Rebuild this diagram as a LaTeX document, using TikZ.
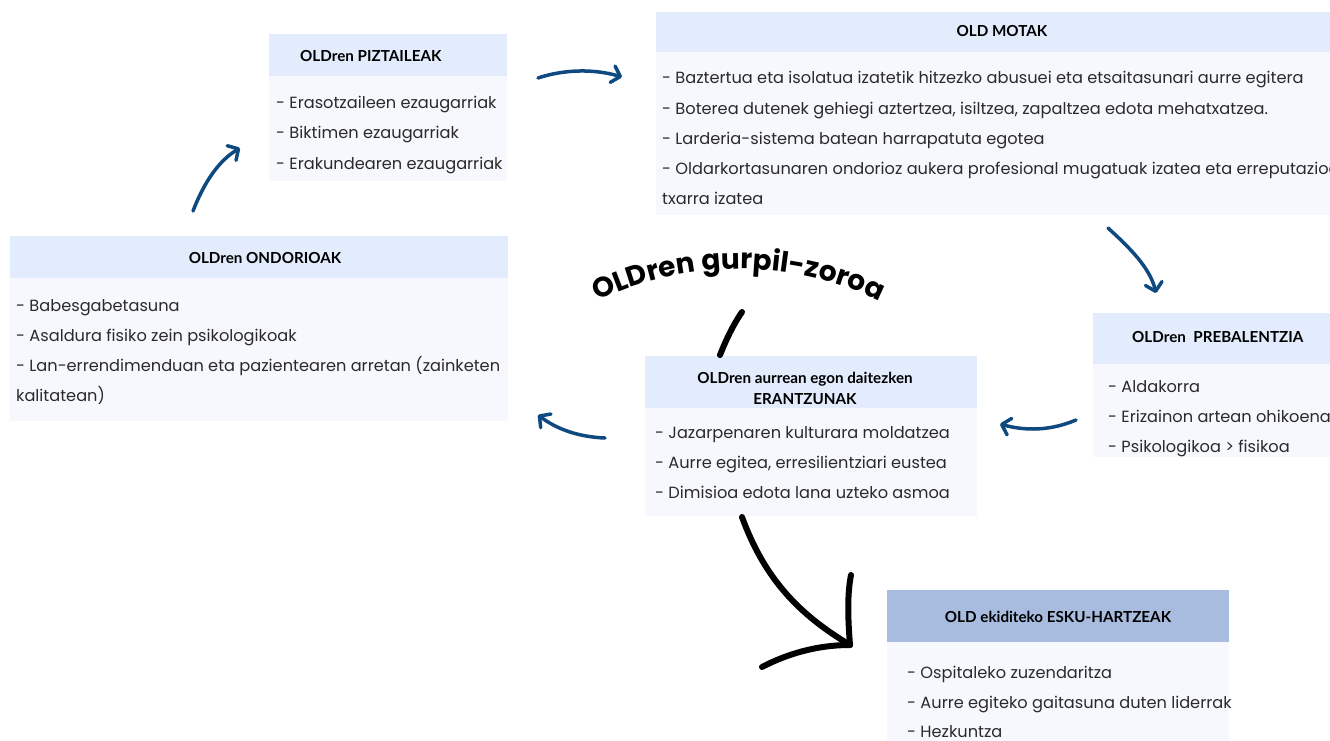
\documentclass[tikz,border=0pt]{standalone}
\usepackage{fontspec}
\setmainfont{Poppins}
\newfontfamily\hdfont{Lato}
\newfontfamily\titlefont{Poppins}
\usetikzlibrary{arrows.meta,decorations.text}
\definecolor{hdr}{HTML}{E2ECFC}
\definecolor{bdy}{HTML}{F6F8FE}
\definecolor{hdrdark}{HTML}{A8BCDF}
\definecolor{arrblue}{HTML}{0E4A80}
\definecolor{txt}{HTML}{2A2A2A}
\begin{document}
\begin{tikzpicture}[x=1pt,y=-1pt,
  box/.style={draw=none,inner sep=0pt,outer sep=0pt,anchor=north west},
  hbox/.style={box,fill=hdr},
  dbox/.style={box,fill=hdrdark},
  bbox/.style={box,fill=bdy},
  htext/.style={inner sep=0pt,font=\hdfont\bfseries\fontsize{15.2}{18}\selectfont,text=black},
  bline/.style={anchor=base west,inner sep=0pt,font=\fontsize{16.2}{19}\selectfont,text=txt},
  blueArrow/.style={draw=arrblue,line width=3.5pt,line cap=round,-{Straight Barb[length=8pt,width=17pt,round]}},
  blackStroke/.style={draw=black,line width=6pt,line cap=round}
]
\useasboundingbox (0,0) rectangle (1330,741);
\clip (0,0) rectangle (1330,741);

% ---- PIZTAILEAK
\node[hbox,minimum width=238,minimum height=42] (pizH) at (269,34) {};
\node[bbox,minimum width=238,minimum height=105] (pizB) at (269,76) {};
\node[htext,anchor=west] (pizT) at (300,56) {OLDren PIZTAILEAK};
\node[bline] (piz1) at (276,109) {- Erasotzaileen ezaugarriak};
\node[bline] (piz2) at (276,139) {- Biktimen ezaugarriak};
\node[bline] (piz3) at (276,169) {- Erakundearen ezaugarriak};

% ---- MOTAK
\node[hbox,minimum width=680,minimum height=40] (motH) at (656,12) {};
\node[bbox,minimum width=680,minimum height=163] (motB) at (656,52) {};
\node[htext] (motT) at (1002,31) {OLD MOTAK};
\node[bline] (mot1) at (662,84) {- Baztertua eta isolatua izatetik hitzezko abusuei eta etsaitasunari aurre egitera};
\node[bline] (mot2) at (662,114) {- Boterea dutenek gehiegi aztertzea, isiltzea, zapaltzea edota mehatxatzea.};
\node[bline] (mot3) at (662,144) {- Larderia-sistema batean harrapatuta egotea};
\node[bline] (mot4) at (662,174) {- Oldarkortasunaren ondorioz aukera profesional mugatuak izatea eta erreputazioa};
\node[bline] (mot5) at (662,204) {txarra izatea};

% ---- ONDORIOAK
\node[hbox,minimum width=498,minimum height=42] (ondH) at (10,236) {};
\node[bbox,minimum width=498,minimum height=143] (ondB) at (10,278) {};
\node[htext] (ondT) at (265,258) {OLDren ONDORIOAK};
\node[bline] (ond1) at (16,311) {- Babesgabetasuna};
\node[bline] (ond2) at (16,341) {- Asaldura fisiko zein psikologikoak};
\node[bline] (ond3) at (16,371) {- Lan-errendimenduan eta pazientearen arretan (zainketen};
\node[bline] (ond4) at (16,401) {kalitatean)};

% ---- PREBALENTZIA
\node[hbox,minimum width=240,minimum height=51] (preH) at (1093,313) {};
\node[bbox,minimum width=240,minimum height=93] (preB) at (1093,364) {};
\node[htext,anchor=west] (preT) at (1132,337) {OLDren\ \ PREBALENTZIA};
\node[bline] (pre1) at (1108,392) {- Aldakorra};
\node[bline] (pre2) at (1108,422) {- Erizainon artean ohikoena};
\node[bline] (pre3) at (1108,452) {- Psikologikoa > fisikoa};

% ---- ERANTZUNAK
\node[hbox,minimum width=332,minimum height=52] (eraH) at (645,356) {};
\node[bbox,minimum width=332,minimum height=108] (eraB) at (645,408) {};
\node[htext,align=center,font=\hdfont\bfseries\fontsize{15.2}{21}\selectfont] (eraT) at (805,388) {OLDren aurrean egon daitezken\\ERANTZUNAK};
\node[bline] (era1) at (655,438) {- Jazarpenaren kulturara moldatzea};
\node[bline] (era2) at (655,468) {- Aurre egitea, erresilientziari eustea};
\node[bline] (era3) at (655,498) {- Dimisioa edota lana uzteko asmoa};

% ---- ESKU-HARTZEAK
\node[dbox,minimum width=342,minimum height=52] (eskH) at (887,590) {};
\node[bbox,minimum width=342,minimum height=110] (eskB) at (887,642) {};
\node[htext] (eskT) at (1058,617) {OLD ekiditeko ESKU-HARTZEAK};
\node[bline] (esk1) at (907,678) {- Ospitaleko zuzendaritza};
\node[bline] (esk2) at (907,708) {- Aurre egiteko gaitasuna duten liderrak};
\node[bline] (esk3) at (907,737) {- Hezkuntza};

% ---- title along arc
\coordinate (tl) at (590,305);
\coordinate (tr) at (887,305);
\path[decorate,decoration={text along path,text align=center,
  text={|\titlefont\bfseries\fontsize{28}{32}\selectfont|OLDren gurpil-zoroa}}]
  (tl) .. controls (680,257) and (797,257) .. (tr);

% ---- blue arrows
\coordinate (a1s) at (193,211); \coordinate (a1e) at (240,148);
\coordinate (a2s) at (538,78);  \coordinate (a2e) at (622,77);
\coordinate (a3s) at (1108,228); \coordinate (a3e) at (1156,293);
\coordinate (a4s) at (1076,420); \coordinate (a4e) at (1000,424);
\coordinate (a5s) at (605,438); \coordinate (a5e) at (538,415);
\draw[blueArrow] (a1s) .. controls (205,180) and (220,160) .. (a1e);
\draw[blueArrow] (a2s) .. controls (565,69) and (595,69) .. (a2e);
\draw[blueArrow] (a3s) .. controls (1130,248) and (1150,268) .. (a3e);
\draw[blueArrow] (a4s) .. controls (1050,431) and (1025,431) .. (a4e);
\draw[blueArrow] (a5s) .. controls (580,437) and (558,430) .. (a5e);

% ---- black strokes
\coordinate (k1s) at (742,312); \coordinate (k1e) at (720,355);
\draw[blackStroke] (k1s) .. controls (733,325) and (726,340) .. (k1e);
\coordinate (k2s) at (742,517); \coordinate (k2e) at (850,645);
\coordinate (k2a) at (851,575); \coordinate (k2b) at (762,667);
\draw[blackStroke] (k2s) .. controls (765,580) and (800,615) .. (k2e);
\draw[blackStroke] (k2e) .. controls (848,620) and (847,595) .. (k2a);
\draw[blackStroke] (k2e) .. controls (815,645) and (785,655) .. (k2b);
\end{tikzpicture}
\end{document}
